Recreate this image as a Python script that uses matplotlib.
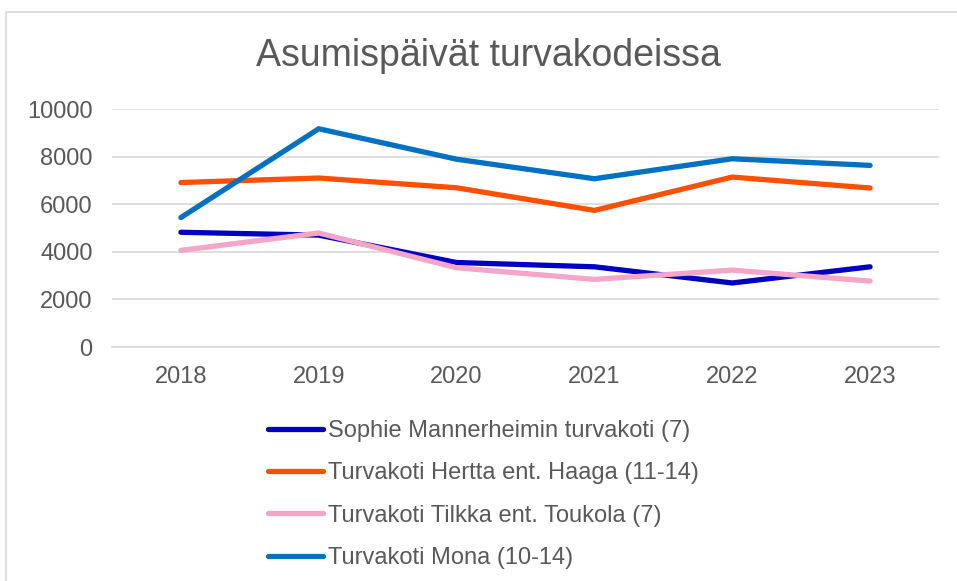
import matplotlib
matplotlib.use("Agg")
import matplotlib.pyplot as plt
from matplotlib.patches import Rectangle

# Data
years = ["2018", "2019", "2020", "2021", "2022", "2023"]
sophie = [4820, 4700, 3550, 3370, 2690, 3370]
hertta = [6910, 7100, 6690, 5740, 7140, 6680]
tilkka = [4060, 4790, 3330, 2840, 3230, 2770]
mona = [5440, 9170, 7890, 7070, 7910, 7630]

labels = ["Sophie Mannerheimin turvakoti (7)",
          "Turvakoti Hertta ent. Haaga (11-14)",
          "Turvakoti Tilkka ent. Toukola (7)",
          "Turvakoti Mona (10-14)"]
colors = ["#0000c0", "#ff5000", "#f4a6c8", "#0070c0"]
text_color = "#595959"
grid_color = "#d9d9d9"

plt.rcParams['font.family'] = ['Liberation Sans', 'DejaVu Sans']

W, H = 957, 581
fig = plt.figure(figsize=(W / 100, H / 100), dpi=100)

# outer chart border (runs off the right and bottom edges)
fig.patches.append(Rectangle((6 / W, -0.2), 1.2, 1.2 - 12 / H,
                             transform=fig.transFigure, fill=False,
                             edgecolor=grid_color, linewidth=1.2))

ax = fig.add_axes([112 / W, 1 - 347 / H, (939 - 112) / W, (347 - 109) / H])

x = range(len(years))
for series, lab, col in zip([sophie, hertta, tilkka, mona], labels, colors):
    ax.plot(x, series, color=col, linewidth=3.8, label=lab,
            solid_capstyle='round', solid_joinstyle='round')

ax.set_xlim(-0.5, len(years) - 0.5)
ax.set_ylim(0, 10000)
ax.set_yticks(range(0, 10001, 2000))
ax.set_xticks(list(x))
ax.set_xticklabels(years)
ax.grid(axis='y', color=grid_color, linewidth=1.2)
ax.set_axisbelow(True)
for s in ['top', 'right', 'left']:
    ax.spines[s].set_visible(False)
ax.spines['bottom'].set_color(grid_color)
ax.spines['bottom'].set_linewidth(1.2)
ax.tick_params(axis='both', length=0, labelsize=17, labelcolor=text_color)
ax.tick_params(axis='y', pad=14)
ax.tick_params(axis='x', pad=14)

fig.text(488 / W, 1 - 56 / H, "Asumispäivät turvakodeissa", ha='center',
         va='center', fontsize=27, color=text_color)

fs = 17
fig.legend(loc='upper left', bbox_to_anchor=(268 / W, 1 - 420 / H),
           frameon=False, fontsize=fs, labelcolor=text_color,
           handlelength=2.35, handletextpad=0.2, labelspacing=0.86,
           borderpad=0, borderaxespad=0)

fig.savefig("out.png", dpi=100)
